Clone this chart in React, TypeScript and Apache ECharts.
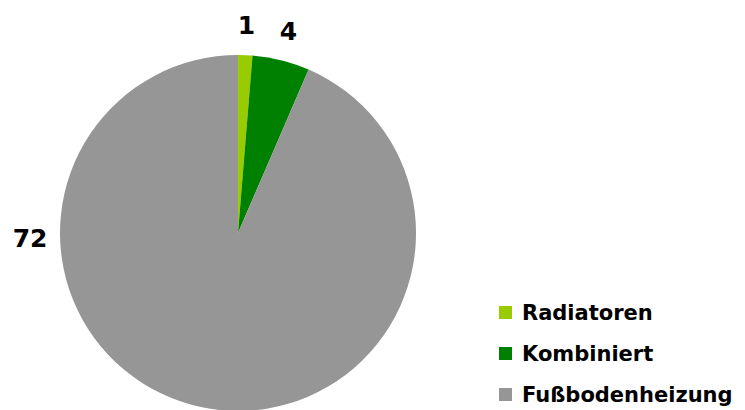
import React, { useEffect, useRef } from "react";
import * as echarts from "echarts";

const categories = ["Radiatoren", "Kombiniert", "Fußbodenheizung"];
const values = [1, 4, 72];
const colors = ["#99cc00", "#008000", "#969696"];

const CX = 238;
const CY = 233;
const R = 178;
const LABEL_DIST = R + 30;

export default function App() {
  const ref = useRef<HTMLDivElement>(null);
  useEffect(() => {
    if (!ref.current) return;
    const chart = echarts.init(ref.current, undefined, { renderer: "svg" });
    const total = values.reduce((a, b) => a + b, 0);
    const cum: number[] = [];
    values.reduce((acc, v) => {
      cum.push(acc);
      return acc + v;
    }, 0);
    const labelAngle = (i: number) => {
      // largest slice's label is placed to the left of the pie ("best fit")
      if (i === values.length - 1) return 268.6;
      return ((cum[i] + values[i] / 2) / total) * 360;
    };
    chart.setOption({
      animation: false,
      backgroundColor: "#ffffff",
      legend: {
        type: "plain",
        orient: "vertical",
        left: 499,
        top: 302,
        padding: 0,
        height: 110,
        itemWidth: 13,
        itemHeight: 13,
        itemGap: 20,
        icon: "rect",
        selectedMode: false,
        textStyle: {
          fontFamily: "DejaVu Sans",
          fontWeight: "bold",
          fontSize: 21,
          lineHeight: 21,
          color: "#000000",
          padding: [0, 0, 0, 5],
        },
        data: categories,
      },
      series: [
        {
          type: "pie",
          center: [CX, CY],
          radius: R,
          startAngle: 90,
          clockwise: true,
          avoidLabelOverlap: false,
          itemStyle: { borderWidth: 0 },
          emphasis: { disabled: true },
          label: {
            show: true,
            position: "outside",
            formatter: "{c}",
            fontFamily: "DejaVu Sans",
            fontWeight: "bold",
            fontSize: 25,
            color: "#000000",
          },
          labelLine: { show: false },
          labelLayout: (params: any) => {
            const a = (labelAngle(params.dataIndex) * Math.PI) / 180;
            return {
              x: CX + Math.sin(a) * LABEL_DIST,
              y: CY - Math.cos(a) * LABEL_DIST,
              align: "center",
              verticalAlign: "middle",
            };
          },
          data: categories.map((name, i) => ({
            name,
            value: values[i],
            itemStyle: { color: colors[i] },
          })),
        },
      ],
    });
    return () => chart.dispose();
  }, []);
  return (
    <div
      ref={ref}
      style={{ position: "fixed", left: 0, top: 0, width: 745, height: 410 }}
    />
  );
}
